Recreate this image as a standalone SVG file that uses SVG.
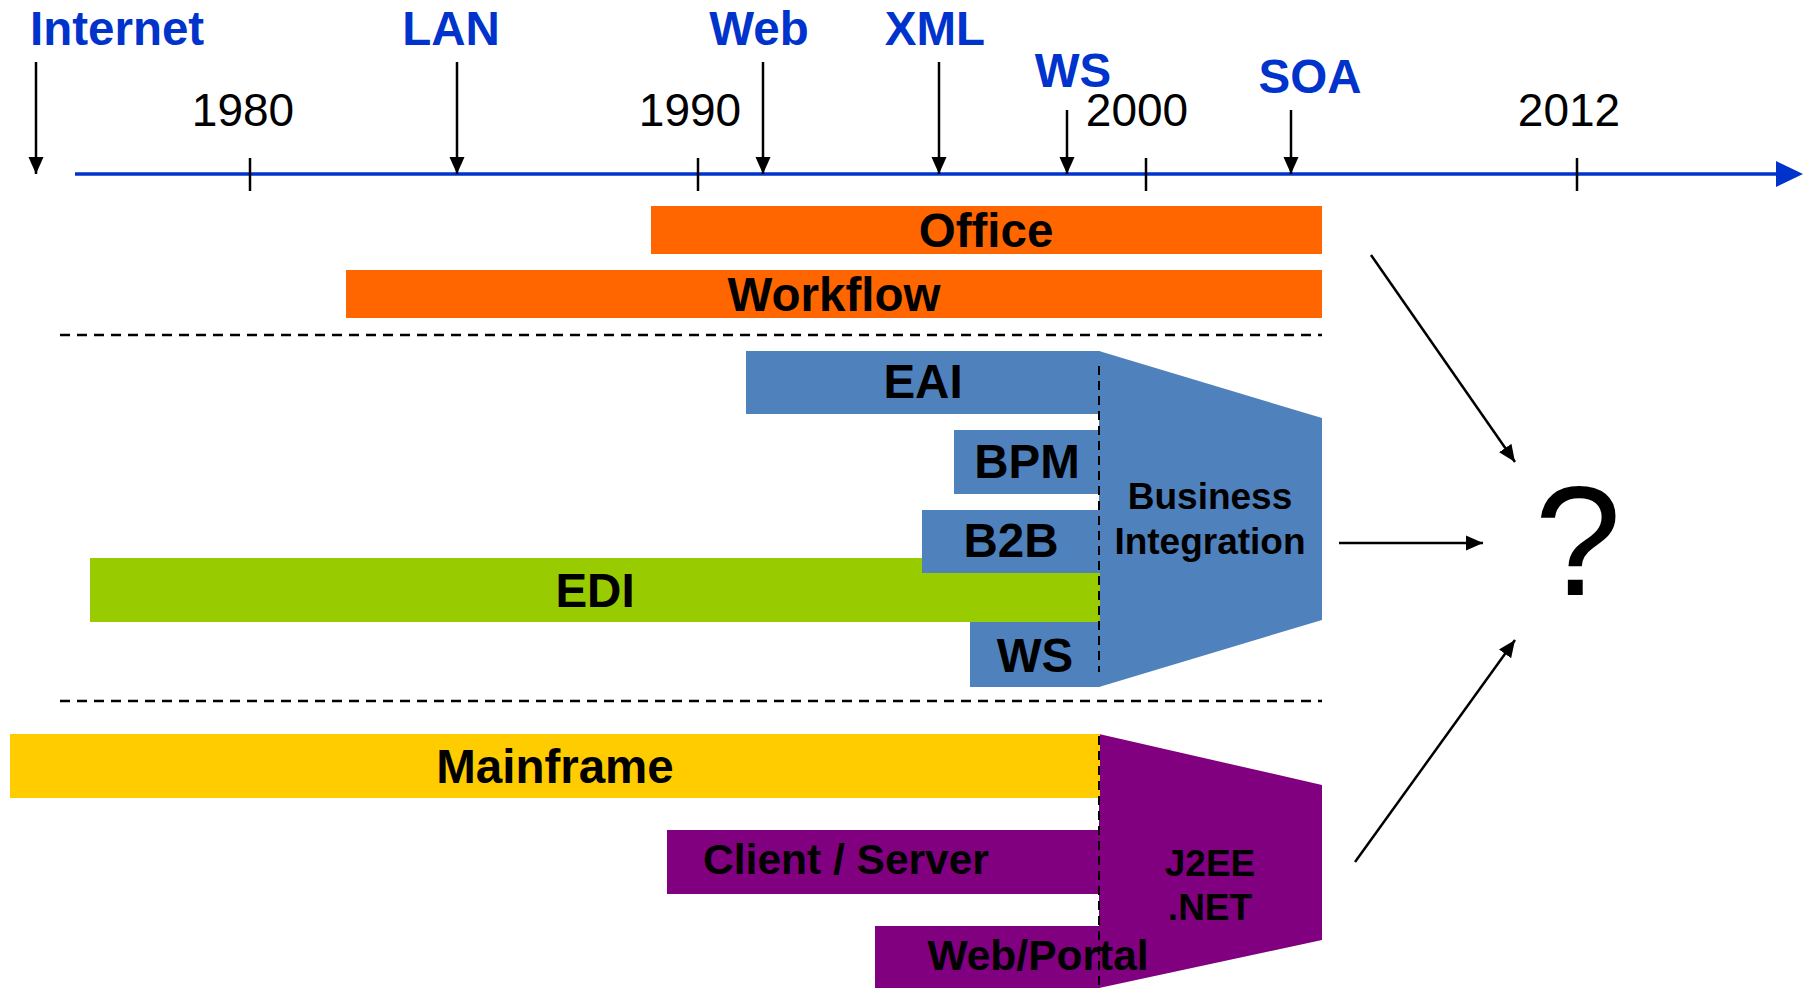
<svg xmlns="http://www.w3.org/2000/svg" width="1809" height="988" viewBox="0 0 1809 988">
<style>
text{font-family:"Liberation Sans",Arial,sans-serif}
.ev{font-size:47.5px;font-weight:bold;fill:#0033CC}
.yr{font-size:46px;fill:#000}
.lb{font-size:47.5px;font-weight:bold;fill:#000;text-anchor:middle}
.lm{font-size:42.5px;font-weight:bold;fill:#000;text-anchor:middle}
.ls{font-size:37px;font-weight:bold;fill:#000;text-anchor:middle}
.ar{stroke:#000;stroke-width:2.5;fill:none;marker-end:url(#ah)}
.tk{stroke:#000;stroke-width:2.5}
.dl{stroke:#000;stroke-width:2.5;stroke-dasharray:10 7;fill:none}
.vd{stroke:#000;stroke-width:2;stroke-dasharray:9 6;fill:none}
.or{fill:#FF6600}.bl{fill:#4F81BD}.gr{fill:#99CC00}.ye{fill:#FFCC00}.pu{fill:#800080}
</style>
<defs>
<marker id="ah" markerUnits="userSpaceOnUse" markerWidth="18" markerHeight="16" refX="17" refY="7.5" orient="auto" viewBox="0 0 18 15">
<path d="M0,0 L17,7.5 L0,15 z" fill="#000"/>
</marker>
</defs>
<g id="timeline">
<line x1="75" y1="174" x2="1778" y2="174" stroke="#0033CC" stroke-width="3.3"/>
<path d="M1776,161 L1803,174 L1776,187 z" fill="#0033CC"/>
<line class="tk" x1="250" y1="158" x2="250" y2="191"/>
<line class="tk" x1="698" y1="158" x2="698" y2="191"/>
<line class="tk" x1="1146" y1="158" x2="1146" y2="191"/>
<line class="tk" x1="1577" y1="158" x2="1577" y2="191"/>
<text class="yr" x="243" y="126" text-anchor="middle">1980</text>
<text class="yr" x="690" y="126" text-anchor="middle">1990</text>
<text class="yr" x="1137" y="126" text-anchor="middle">2000</text>
<text class="yr" x="1569" y="126" text-anchor="middle">2012</text>
</g>
<g id="events">
<text class="ev" x="30" y="45">Internet</text>
<text class="ev" x="451" y="45" text-anchor="middle">LAN</text>
<text class="ev" x="759" y="45" text-anchor="middle">Web</text>
<text class="ev" x="935" y="45" text-anchor="middle">XML</text>
<text class="ev" x="1073" y="87" text-anchor="middle">WS</text>
<text class="ev" x="1310" y="93" text-anchor="middle">SOA</text>
</g>
<g id="office"><rect class="or" x="651" y="206" width="671" height="48"/><text class="lb" x="986" y="247">Office</text></g>
<g id="workflow"><rect class="or" x="346" y="270" width="976" height="48"/><text class="lb" x="834" y="311">Workflow</text></g>
<g id="separators">
<line class="dl" x1="60" y1="335" x2="1322" y2="335"/>
<line class="dl" x1="60" y1="701" x2="1322" y2="701"/>
</g>
<g id="business-integration"><path class="bl" d="M1099,351 L1322,418 L1322,620 L1099,687 z"/><text class="ls" x="1210" y="509">Business</text><text class="ls" x="1210" y="554">Integration</text></g>
<g id="eai"><rect class="bl" x="746" y="351" width="354" height="63"/><text class="lb" x="923" y="398">EAI</text></g>
<g id="bpm"><rect class="bl" x="954" y="430" width="146" height="64"/><text class="lb" x="1027" y="478">BPM</text></g>
<g id="edi"><rect class="gr" x="90" y="558" width="1010" height="64"/><text class="lb" x="595" y="607">EDI</text></g>
<g id="b2b"><rect class="bl" x="922" y="510" width="178" height="63"/><text class="lb" x="1011" y="557">B2B</text></g>
<g id="ws"><rect class="bl" x="970" y="622" width="130" height="65"/><text class="lb" x="1035" y="672">WS</text></g>
<g id="j2ee"><path class="pu" d="M1099,734 L1322,785 L1322,940 L1099,988 z"/><text class="ls" x="1210" y="876">J2EE</text><text class="ls" x="1210" y="920">.NET</text></g>
<g id="mainframe"><rect class="ye" x="10" y="734" width="1090" height="64"/><text class="lb" x="555" y="783">Mainframe</text></g>
<g id="client-server"><rect class="pu" x="667" y="830" width="433" height="64"/><text class="lm" x="846" y="874">Client / Server</text></g>
<g id="web-portal"><rect class="pu" x="875" y="926" width="225" height="62"/><text class="lm" x="1038" y="970">Web/Portal</text></g>
<g id="dividers">
<line class="vd" x1="1099" y1="366" x2="1099" y2="672"/>
<line class="vd" x1="1099" y1="736" x2="1099" y2="988"/>
</g>
<g id="result"><text x="1578" y="595" font-size="156" text-anchor="middle" fill="#000">?</text></g>
<g id="connectors">
<line class="ar" x1="36" y1="62" x2="36" y2="174"/>
<line class="ar" x1="457" y1="62" x2="457" y2="174"/>
<line class="ar" x1="763" y1="62" x2="763" y2="174"/>
<line class="ar" x1="939" y1="62" x2="939" y2="174"/>
<line class="ar" x1="1067" y1="110" x2="1067" y2="174"/>
<line class="ar" x1="1291" y1="110" x2="1291" y2="174"/>
<line class="ar" x1="1371" y1="255" x2="1515" y2="462"/>
<line class="ar" x1="1339" y1="543" x2="1483" y2="543"/>
<line class="ar" x1="1355" y1="862" x2="1515" y2="640"/>
</g>
</svg>
